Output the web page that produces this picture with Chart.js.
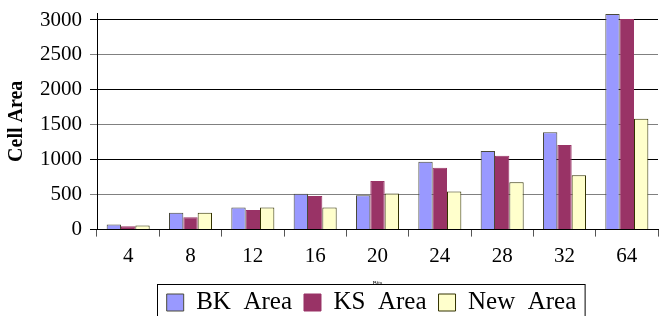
<!DOCTYPE html>
<html>
<head>
<meta charset="utf-8">
<script src="https://cdn.jsdelivr.net/npm/chart.js@4/dist/chart.umd.min.js"></script>
<style>
  html, body { margin: 0; padding: 0; background: #fff; overflow: hidden; }
  #wrap { width: 660px; height: 334px; }
</style>
</head>
<body>
<div id="wrap"><canvas id="areaChart"></canvas></div>
<script>
const bits = ['4', '8', '12', '16', '20', '24', '28', '32', '64'];
const bkArea = [72, 240, 317, 514, 492, 972, 1126, 1393, 3087];
const ksArea = [48, 178, 279, 481, 695, 884, 1058, 1212, 3014];
const newArea = [58, 240, 317, 317, 515, 547, 677, 779, 1587];
const yTicks = [0, 500, 1000, 1500, 2000, 2500, 3000];

const serif = 'Liberation Serif';
const legendShiftX = 40; // legend sits centred under the plot, not the canvas
const legendShiftY = -9;

// move legend under the plot and draw a box around it
const legendFrame = {
  id: 'legendFrame',
  afterLayout(chart) {
    const lg = chart.legend;
    lg.left += legendShiftX;
    lg.right += legendShiftX;
    lg.top += legendShiftY;
    lg.bottom += legendShiftY;
  },
  afterDraw(chart) {
    const boxes = chart.legend.legendHitBoxes;
    if (!boxes || !boxes.length) return;
    const left = Math.min(...boxes.map(b => b.left)) - 10;
    const right = Math.max(...boxes.map(b => b.left + b.width)) + 8;
    const top = boxes[0].top - 6;
    const c = chart.ctx;
    c.save();
    c.strokeStyle = '#000';
    c.lineWidth = 1;
    c.strokeRect(Math.round(left) + 0.5, Math.round(top) + 0.5, right - left, 60);
    c.restore();
  }
};

const ctx = document.getElementById('areaChart').getContext('2d');
const gridColor = c => (c.tick && c.tick.value % 1000 === 0) ? '#000' : '#808080';

new Chart(ctx, {
  type: 'bar',
  data: {
    labels: bits,
    datasets: [
      { label: 'BK  Area', data: bkArea, backgroundColor: '#9999FF', borderColor: '#4a4a3a', borderWidth: 1 },
      { label: 'KS  Area', data: ksArea, backgroundColor: '#993366', borderColor: '#993366', borderWidth: 1 },
      { label: 'New  Area', data: newArea, backgroundColor: '#FFFFCC', borderColor: '#333300', borderWidth: 1 }
    ]
  },
  options: {
    responsive: true,
    maintainAspectRatio: false,
    animation: false,
    layout: { padding: { top: 13, right: 2, left: 5 } },
    datasets: { bar: { barPercentage: 1, categoryPercentage: 0.69 } },
    scales: {
      x: {
        grid: { offset: true, drawOnChartArea: false, tickLength: 7, color: '#555' },
        border: { color: '#000' },
        ticks: { font: { family: serif, size: 21 }, color: '#000', padding: 7 },
        title: { display: true, text: 'Bits', font: { family: serif, size: 6 }, color: '#000', padding: { top: 4, bottom: 0 } }
      },
      y: {
        min: 0,
        max: 3100,
        afterBuildTicks: axis => { axis.ticks = yTicks.map(v => ({ value: v })); },
        afterFit: axis => { axis.paddingTop = 0; },
        grid: { color: gridColor, tickLength: 7 },
        border: { color: '#000' },
        ticks: { font: { family: serif, size: 21 }, color: '#000', padding: 8, callback: v => String(v) },
        title: { display: true, text: 'Cell Area', font: { family: serif, size: 20, weight: 'bold' }, color: '#000', padding: { top: 0, bottom: 3 } }
      }
    },
    plugins: {
      tooltip: { enabled: false },
      legend: {
        position: 'bottom',
        labels: {
          font: { family: serif, size: 25 },
          color: '#000',
          boxWidth: 17,
          boxHeight: 17,
          padding: 12
        }
      }
    }
  },
  plugins: [legendFrame]
});
</script>
</body>
</html>
